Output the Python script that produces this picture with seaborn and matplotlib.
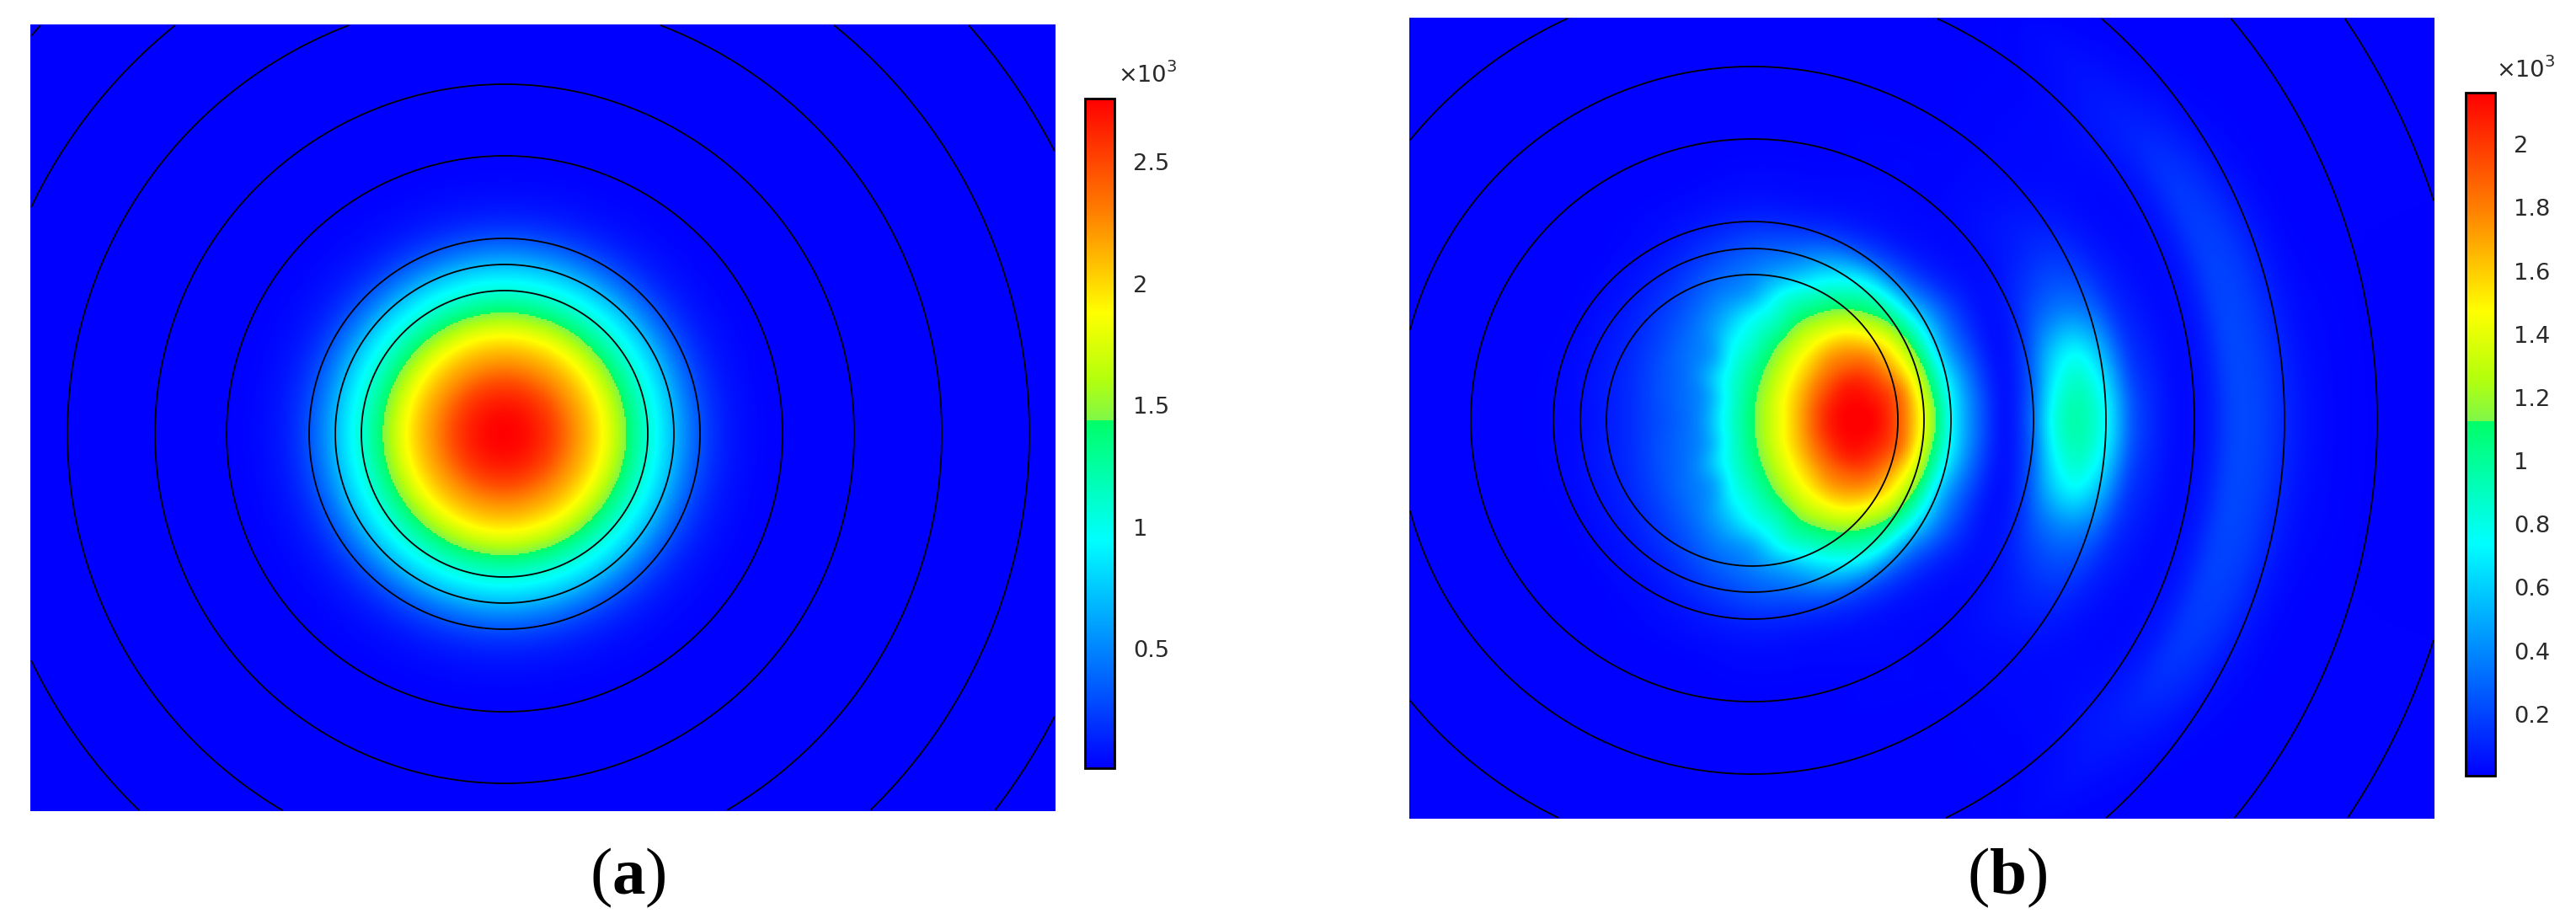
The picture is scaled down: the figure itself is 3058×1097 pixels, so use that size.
import numpy as np
import matplotlib
matplotlib.use("Agg")
import matplotlib.pyplot as plt
from matplotlib.colors import LinearSegmentedColormap
import seaborn as sns

W, H = 3058, 1097

# colour scale
cmap_stops = [(0.0, (0, 0, 1)), (0.34, (0, 1, 1)), (0.52, (0, 1, 0.40)),
              (0.52, (0.50, 0.97, 0.28)), (0.58, (0.70, 1, 0.05)),
              (0.68, (1, 1, 0)), (0.83, (1, 0.5, 0)), (1.0, (1, 0, 0))]

# panel a: field against distance from the ring centre
a_r = [0, 20, 40, 60, 80, 100, 120, 140, 160, 180, 200, 220, 240, 260, 280, 300, 320, 340, 400, 1000]
a_val = [2.76, 2.73, 2.64, 2.49, 2.27, 2.07, 1.82, 1.50, 1.20, 0.95, 0.70, 0.44, 0.24, 0.12, 0.06,
         0.03, 0.015, 0.01, 0.01, 0.01]
a_rings = [170, 201, 232, 330, 415, 519, 623, 734]
a_ticks = [0.5, 1, 1.5, 2, 2.5]
a_ticklabels = ["0.5", "1", "1.5", "2", "2.5"]
a_range = (0.01, 2.76)

# panel b: field on a polar table around the ring centre (symmetric up/down)
b_r = list(range(0, 750, 30))
b_theta = [0, 10, 20, 30, 40, 50, 60, 75, 90, 105, 120, 135, 150, 165, 180]
th000 = [1.10, 1.40, 1.72, 2.07, 2.18, 2.13, 1.83, 1.29, 0.68, 0.28, 0.05, 0.28, 0.82, 0.95, 0.74, 0.27, 0.10, 0.03, 0.07, 0.20, 0.20, 0.12, 0.05, 0.02, 0.01]
th010 = [1.10, 1.38, 1.71, 2.04, 2.15, 2.08, 1.82, 1.22, 0.66, 0.26, 0.05, 0.20, 0.62, 0.80, 0.58, 0.20, 0.08, 0.03, 0.07, 0.20, 0.19, 0.11, 0.04, 0.02, 0.01]
th020 = [1.10, 1.38, 1.66, 1.93, 2.08, 1.97, 1.64, 1.16, 0.55, 0.22, 0.05, 0.10, 0.28, 0.35, 0.28, 0.12, 0.05, 0.03, 0.07, 0.18, 0.17, 0.09, 0.03, 0.01, 0.01]
th030 = [1.10, 1.36, 1.60, 1.80, 1.88, 1.80, 1.51, 1.05, 0.52, 0.20, 0.06, 0.05, 0.10, 0.14, 0.12, 0.06, 0.03, 0.03, 0.07, 0.15, 0.12, 0.05, 0.02, 0.01, 0.01]
th040 = [1.10, 1.32, 1.51, 1.64, 1.71, 1.58, 1.26, 0.90, 0.38, 0.12, 0.04, 0.03, 0.05, 0.05, 0.04, 0.03, 0.03, 0.04, 0.07, 0.08, 0.05, 0.02, 0.01, 0.01, 0.01]
th050 = [1.10, 1.28, 1.41, 1.49, 1.47, 1.32, 1.05, 0.76, 0.28, 0.08, 0.03, 0.02, 0.02, 0.02, 0.02, 0.02, 0.02, 0.02, 0.03, 0.04, 0.02, 0.01, 0.01, 0.01, 0.01]
th060 = [1.10, 1.23, 1.31, 1.32, 1.27, 1.08, 0.85, 0.55, 0.20, 0.06, 0.03, 0.02, 0.02, 0.01, 0.01, 0.01, 0.01, 0.01, 0.01, 0.01, 0.01, 0.01, 0.01, 0.01, 0.01]
th075 = [1.10, 1.15, 1.14, 1.08, 0.93, 0.82, 0.52, 0.30, 0.12, 0.04, 0.02, 0.01, 0.01, 0.01, 0.01, 0.01, 0.01, 0.01, 0.01, 0.01, 0.01, 0.01, 0.01, 0.01, 0.01]
th090 = [1.10, 1.07, 1.00, 0.87, 0.75, 0.48, 0.35, 0.22, 0.10, 0.04, 0.02, 0.01, 0.01, 0.01, 0.01, 0.01, 0.01, 0.01, 0.01, 0.01, 0.01, 0.01, 0.01, 0.01, 0.01]
th105 = [1.10, 1.00, 0.88, 0.74, 0.55, 0.38, 0.26, 0.15, 0.07, 0.03, 0.01, 0.01, 0.01, 0.01, 0.01, 0.01, 0.01, 0.01, 0.01, 0.01, 0.01, 0.01, 0.01, 0.01, 0.01]
th120 = [1.10, 0.93, 0.77, 0.47, 0.38, 0.27, 0.17, 0.09, 0.04, 0.02, 0.01, 0.01, 0.01, 0.01, 0.01, 0.01, 0.01, 0.01, 0.01, 0.01, 0.01, 0.01, 0.01, 0.01, 0.01]
th135 = [1.10, 0.87, 0.63, 0.40, 0.30, 0.20, 0.12, 0.06, 0.03, 0.01, 0.01, 0.01, 0.01, 0.01, 0.01, 0.01, 0.01, 0.01, 0.01, 0.01, 0.01, 0.01, 0.01, 0.01, 0.01]
th150 = [1.10, 0.83, 0.47, 0.33, 0.25, 0.16, 0.09, 0.05, 0.02, 0.01, 0.01, 0.01, 0.01, 0.01, 0.01, 0.01, 0.01, 0.01, 0.01, 0.01, 0.01, 0.01, 0.01, 0.01, 0.01]
th165 = [1.10, 0.81, 0.43, 0.30, 0.22, 0.13, 0.08, 0.04, 0.02, 0.01, 0.01, 0.01, 0.01, 0.01, 0.01, 0.01, 0.01, 0.01, 0.01, 0.01, 0.01, 0.01, 0.01, 0.01, 0.01]
th180 = [1.10, 0.80, 0.42, 0.28, 0.20, 0.12, 0.07, 0.03, 0.02, 0.01, 0.01, 0.01, 0.01, 0.01, 0.01, 0.01, 0.01, 0.01, 0.01, 0.01, 0.01, 0.01, 0.01, 0.01, 0.01]
b_rings = [173, 204, 236, 334, 420, 525, 632, 742, 850]
b_ticks = [0.2, 0.4, 0.6, 0.8, 1, 1.2, 1.4, 1.6, 1.8, 2]
b_ticklabels = ["0.2", "0.4", "0.6", "0.8", "1", "1.2", "1.4", "1.6", "1.8", "2"]
b_range = (0.005, 2.163)

plt.rcParams["mathtext.fontset"] = "custom"
plt.rcParams["mathtext.rm"] = "Liberation Serif"
plt.rcParams["mathtext.bf"] = "Liberation Serif:bold"

sns.set_theme(style="white")
plt.rcParams["font.family"] = "DejaVu Sans"

cmap = LinearSegmentedColormap.from_list("comsol_rainbow", cmap_stops, N=1024)


def hermite(xp, fp, xq):
    # smooth resampling of a read-off table along its first axis
    xp = np.asarray(xp, dtype=float)
    fp = np.asarray(fp, dtype=float)
    xq = np.asarray(xq, dtype=float)
    m = np.gradient(fp, xp, axis=0)
    i = np.clip(np.searchsorted(xp, xq) - 1, 0, len(xp) - 2)
    h = xp[i + 1] - xp[i]
    t = (xq - xp[i]) / h
    shape = t.shape + (1,) * (fp.ndim - 1)
    t = t.reshape(shape)
    h = h.reshape(shape)
    return ((2 * t**3 - 3 * t**2 + 1) * fp[i] + (t**3 - 2 * t**2 + t) * h * m[i]
            + (-2 * t**3 + 3 * t**2) * fp[i + 1] + (t**3 - t**2) * h * m[i + 1])


def soften(field, half=7):
    # takes the facets of the coarse polar table out of the resampled field
    kernel = np.bartlett(2 * half + 1)
    kernel = kernel / kernel.sum()
    padded = np.pad(field, half, mode="edge")
    padded = np.apply_along_axis(np.convolve, 0, padded, kernel, mode="same")
    padded = np.apply_along_axis(np.convolve, 1, padded, kernel, mode="same")
    return padded[half:-half, half:-half]


def make_axes(x0, x1, y0, y1):
    return plt.gcf().add_axes([x0 / W, 1 - y1 / H, (x1 - x0) / W, (y1 - y0) / H])


def offsets(x0, x1, y0, y1, cx, cy):
    # pixel-sized cells, measured from the ring centre
    nx, ny = (x1 - x0) // 2, (y1 - y0) // 2
    xs = np.linspace(x0, x1, nx, endpoint=False) + (x1 - x0) / nx / 2 - cx
    ys = np.linspace(y0, y1, ny, endpoint=False) + (y1 - y0) / ny / 2 - cy
    return np.meshgrid(xs, ys)


def draw_panel(field, dist, rings, vrange, ticks, labels, box, cbox, power_xy, caption, cap_x):
    ax = make_axes(*box)
    cax = make_axes(*cbox)
    sns.heatmap(field, ax=ax, cbar_ax=cax, cmap=cmap, vmin=vrange[0], vmax=vrange[1],
                xticklabels=False, yticklabels=False, cbar_kws={"ticks": ticks})
    ny, nx = field.shape
    ax.contour(np.arange(nx) + 0.5, np.arange(ny) + 0.5, dist, levels=rings,
               colors="black", linewidths=1.3)
    cbar = ax.collections[0].colorbar
    cbar.set_ticks(ticks, labels=labels)
    cbar.outline.set_edgecolor("black")
    cbar.outline.set_linewidth(2.0)
    cax.tick_params(axis="y", direction="in", left=True, right=True, length=4.5, width=1.2,
                    color="black", pad=16, labelsize=19.6, labelcolor="#2a2a2a")
    fig = plt.gcf()
    fig.text(power_xy[0] / W, 1 - power_xy[1] / H, "×10", fontsize=19.6, color="#2a2a2a",
             ha="left", va="baseline")
    fig.text((power_xy[0] + 58) / W, 1 - (power_xy[1] - 12) / H, "3", fontsize=14, color="#2a2a2a",
             ha="left", va="baseline")
    fig.text(cap_x / W, 1 - 1061 / H, caption, fontsize=57, color="black", ha="center", va="baseline")


fig = plt.figure(figsize=(W / 100, H / 100), dpi=100)

# panel a
box_a = (36, 1253, 29, 963)
dx, dy = offsets(*box_a, 599, 515)
dist_a = np.hypot(dx, dy)
field_a = hermite(a_r, a_val, dist_a.ravel()).reshape(dist_a.shape)
draw_panel(field_a, dist_a, a_rings, a_range, a_ticks, a_ticklabels, box_a,
           (1288, 1323, 117, 912), (1327, 97), r"$\mathrm{(}\mathbf{a}\mathrm{)}$", 745)

# panel b
box_b = (1673, 2890, 21, 972)
dx, dy = offsets(*box_b, 2080, 499)
dist_b = np.hypot(dx, dy)
rows = np.array([th000, th010, th020, th030, th040, th050, th060, th075, th090,
                 th105, th120, th135, th150, th165, th180])
# mirror one row each side so the table stays smooth across the symmetry line
rows_ext = np.vstack([rows[1], rows, rows[-2]])
theta_ext = [-10] + b_theta + [195]
theta_fine = np.arange(0, 180.25, 0.25)
r_fine = np.arange(0, 1100)
polar = hermite(theta_ext, rows_ext, theta_fine)
polar = hermite(b_r + [1100], np.vstack([polar.T, polar.T[-1]]), r_fine).T
i_th = np.rint(np.degrees(np.arctan2(np.abs(dy), dx)) / 0.25).astype(int)
i_r = np.rint(dist_b).astype(int)
field_b = np.clip(soften(polar[i_th, i_r]), *b_range)
draw_panel(field_b, dist_b, b_rings, b_range, b_ticks, b_ticklabels, box_b,
           (2927, 2962, 110, 921), (2963, 91), r"$\mathrm{(}\mathbf{b}\mathrm{)}$", 2383)

fig.savefig("out.png", dpi=100, facecolor="white")
